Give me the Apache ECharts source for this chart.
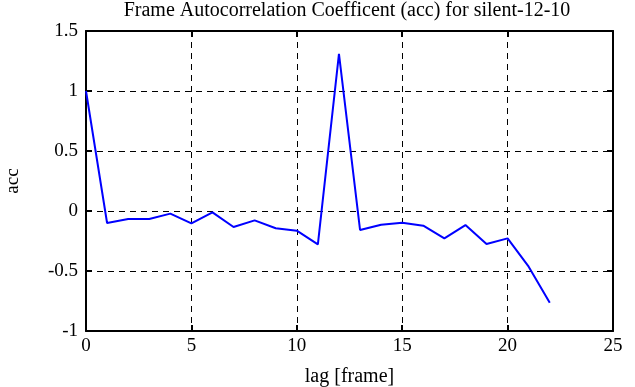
<!DOCTYPE html>
<html><head><meta charset="utf-8">
<script src="https://cdn.jsdelivr.net/npm/echarts@6/dist/echarts.min.js"></script>
<style>html,body{margin:0;padding:0;background:#fff}#c{width:635px;height:387px}</style>
</head><body><div id="c"></div>
<script>
const lags = [0,1,2,3,4,5,6,7,8,9,10,11,12,13,14,15,16,17,18,19,20,21,22];
const acc = [1.0,-0.10,-0.067,-0.067,-0.022,-0.103,-0.011,-0.133,-0.078,-0.144,-0.164,-0.278,1.31,-0.158,-0.114,-0.097,-0.122,-0.228,-0.117,-0.275,-0.228,-0.464,-0.764];
const xTicks = [0,5,10,15,20,25];
const yTicks = [-1,-0.5,0,0.5,1,1.5];
const titleText = 'Frame Autocorrelation Coefficent (acc) for silent-12-10';
const xName = 'lag [frame]';
const yName = 'acc';

const font = 'Liberation Serif';
const axisLine = {show:true, onZero:false, lineStyle:{color:'#000', width:2}};
const tick = {show:true, inside:true, length:6, lineStyle:{color:'#000', width:2}};
const grid = {show:true, lineStyle:{color:'#000', type:[6,5], width:1}};
const chart = echarts.init(document.getElementById('c'), null, {renderer:'canvas'});
chart.setOption({
  animation:false,
  backgroundColor:'#fff',
  title:{text:titleText, left:347, top:1, padding:0, textAlign:'center',
    textStyle:{fontFamily:font, fontWeight:'normal', fontSize:20, color:'#000'}},
  grid:{left:86, right:22, top:31, bottom:56, outerBoundsMode:'none', containLabel:false},
  xAxis:[{type:'value', min:0, max:25, interval:5, position:'bottom',
    name:xName, nameLocation:'middle', nameGap:36,
    nameTextStyle:{fontFamily:font, fontSize:20, color:'#000'},
    axisLine, axisTick:tick, splitLine:grid,
    axisLabel:{fontFamily:font, fontSize:19, color:'#000', margin:6}},
   {type:'value', min:0, max:25, interval:5, position:'top',
    axisLine, axisTick:tick, splitLine:{show:false}, axisLabel:{show:false}}],
  yAxis:[{type:'value', min:-1, max:1.5, interval:0.5, position:'left',
    name:yName, nameLocation:'middle', nameGap:63,
    nameTextStyle:{fontFamily:font, fontSize:19, color:'#000'},
    axisLine, axisTick:tick, splitLine:grid,
    axisLabel:{fontFamily:font, fontSize:19, color:'#000', margin:8}},
   {type:'value', min:-1, max:1.5, interval:0.5, position:'right',
    axisLine, axisTick:tick, splitLine:{show:false}, axisLabel:{show:false}}],
  series:[{type:'line', data:lags.map((l,i)=>[l,acc[i]]), showSymbol:false,
    lineStyle:{color:'#0000ff', width:2}, itemStyle:{color:'#0000ff'}}]
});
</script></body></html>
